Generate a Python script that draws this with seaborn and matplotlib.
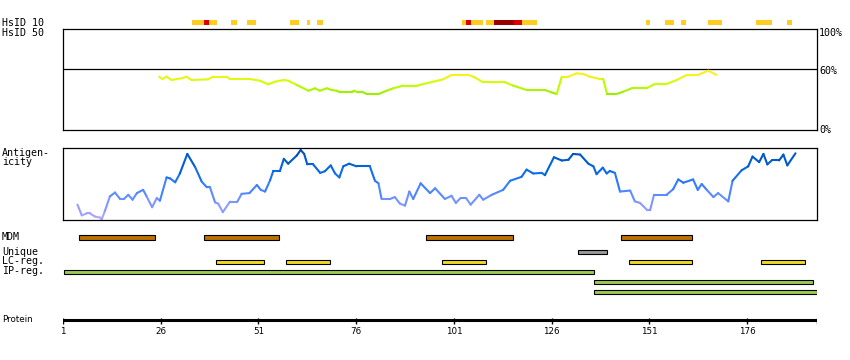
import matplotlib
matplotlib.use("Agg")
import matplotlib.pyplot as plt
import seaborn as sns
import numpy as np
from matplotlib.collections import LineCollection
from matplotlib.colors import LinearSegmentedColormap, Normalize

# Figure size in pixels
W, H = 850, 360
PROTEIN_END = 193.9  # axis runs from residue 1 to just past the last residue

# HsID 10 hits along the sequence: level 1 = low, 2 = medium, 3 = high
hsid10_start = [34.1, 37.2, 38.4, 44.1, 48.2, 59.2, 63.3, 66.1, 103.1, 104.1, 105.4,
                109.2, 111.3, 116.4, 118.4, 150.2, 155.1, 159.2, 166.1, 178.2, 186.1]
hsid10_end = [37.2, 38.4, 40.5, 45.4, 50.5, 61.5, 64.3, 67.4, 104.1, 105.4, 108.4,
              111.3, 116.4, 118.4, 122.3, 151.3, 157.4, 160.5, 169.5, 182.3, 187.4]
hsid10_level = [1, 2, 1, 1, 1, 1, 1, 1, 1, 2, 1,
                1, 3, 2, 1, 1, 1, 1, 1, 1, 1]

# HsID 50 identity (%) along the sequence
hsid50_pos = [25.6, 26.4, 27.5, 28.8, 30.1, 31.4, 32.6, 33.9, 38.1, 39.4, 42.9, 43.7,
              48.8, 51.4, 53.5, 55.2, 57.4, 58.6, 60.8, 63.8, 65.5, 66.7, 68.5, 69.7,
              71.0, 71.9, 74.9, 75.4, 76.5, 77.8, 78.7, 81.7, 83.8, 85.5, 88.1, 91.5,
              93.2, 95.7, 98.3, 100.4, 104.7, 106.0, 108.5, 114.1, 116.2, 119.6, 124.3,
              126.0, 127.3, 128.6, 130.3, 132.4, 134.1, 135.8, 138.4, 139.2, 140.2,
              142.6, 144.3, 146.5, 150.3, 152.4, 155.4, 158.0, 160.6, 163.5, 164.4,
              166.1, 168.2]
hsid50_pct = [52.8, 50.5, 52.8, 49.5, 50.5, 51.2, 52.8, 49.5, 50.2, 52.8, 52.8, 50.5,
              50.5, 48.8, 45.2, 47.8, 49.5, 48.8, 44.6, 38.9, 41.3, 38.9, 41.3, 39.6,
              38.9, 37.3, 37.3, 38.9, 37.3, 37.3, 35.6, 35.6, 38.9, 41.3, 43.9, 43.9,
              45.5, 47.8, 50.2, 54.5, 54.5, 52.8, 47.2, 47.2, 43.9, 39.6, 39.6,
              37.3, 35.6, 52.8, 52.8, 56.1, 55.4, 52.8, 50.5, 50.5, 35.6,
              35.6, 37.9, 41.3, 41.3, 45.5, 45.5, 49.5, 54.5, 54.5, 56.1,
              58.7, 54.5]

# Antigenicity score (0-100 of panel height) along the sequence
antigen_pos = [4.7, 5.8, 7.1, 7.9, 9.2, 10.5, 10.9, 11.7, 13.0, 14.3, 15.6, 16.6, 17.7,
               18.8, 19.9, 21.5, 22.4, 23.8, 25.0, 25.8, 27.5, 28.4, 29.7, 30.9, 32.8,
               34.8, 36.5, 37.8, 38.6, 39.9, 40.7, 41.9, 43.7, 45.6, 46.7, 48.7, 50.6,
               51.6, 52.7, 54.0, 54.8, 56.5, 57.5, 58.6, 60.8, 61.8, 62.7, 63.5, 65.0,
               66.8, 68.0, 69.5, 70.6, 71.7, 72.7, 74.2, 76.1, 79.5, 80.8, 81.7, 82.5,
               84.7, 85.9, 87.2, 88.5, 89.6, 90.6, 92.5, 94.9, 96.2, 98.7, 100.4, 101.5,
               102.7, 104.1, 105.3, 107.5, 108.5, 110.7, 113.6, 115.4, 118.3, 119.6,
               121.3, 123.5, 124.3, 126.6, 128.6, 130.3, 131.5, 133.3, 135.4, 136.7,
               137.5, 139.1, 140.1, 140.9, 142.2, 143.5, 146.1, 147.3, 148.6, 150.5,
               151.2, 152.2, 155.4, 157.1, 158.4, 159.7, 162.2, 163.4, 164.4, 165.7,
               167.4, 168.6, 171.2, 172.3, 174.6, 176.3, 177.4, 179.1, 180.2, 181.2,
               182.3, 184.2, 185.3, 186.3, 188.4]
antigen_val = [20.8, 5.6, 8.3, 8.3, 3.8, 2.4, 0.0, 11.5, 32.4, 37.9, 28.8, 28.8, 34.7,
               27.8, 37.1, 41.7, 32.4, 17.1, 30.1, 26.4, 59.3, 57.9, 52.4, 64.9, 92.6,
               74.0, 53.2, 45.4, 45.4, 24.0, 22.2, 10.1, 25.0, 25.0, 36.1, 37.1, 48.6,
               41.7, 39.3, 55.6, 68.5, 68.5, 85.7, 78.8, 90.3, 98.2, 92.6, 77.8, 77.8,
               65.7, 68.1, 76.4, 64.9, 59.3, 75.0, 78.8, 75.0, 75.0, 54.6, 51.0, 28.8,
               28.8, 31.5, 22.2, 19.4, 39.3, 28.8, 51.0, 37.1, 44.0, 28.8, 33.3, 23.2,
               30.1, 30.1, 20.8, 34.7, 27.8, 34.7, 41.7, 54.6, 60.1, 70.4,
               64.9, 65.7, 62.5, 87.9, 83.3, 84.3, 92.6, 91.7, 78.8, 75.0,
               63.9, 73.2, 64.9, 68.5, 65.7, 39.3, 40.7, 25.4, 23.2, 12.9,
               12.9, 34.7, 34.7, 42.6, 56.5, 51.8, 56.5, 41.7, 50.0, 41.7,
               31.5, 37.1, 25.4, 54.6, 69.4, 75.0, 88.9, 81.0, 92.6, 77.8,
               83.3, 83.3, 91.7, 76.4, 93.5]

# Feature tracks (start / end residue)
mdm_start = [5.1, 37.1, 93.9, 143.7]
mdm_end = [24.5, 56.3, 116.1, 161.9]
unique_start = [132.7]
unique_end = [140.2]
lc_start = [40.1, 58.0, 98.0, 145.8, 179.6]
lc_end = [52.4, 69.3, 109.2, 161.9, 190.8]
ip_start = [1.3, 136.8, 136.8]
ip_end = [136.8, 192.9, 193.9]

tick_labels = [1, 26, 51, 76, 101, 126, 151, 176]

sns.set_theme(style="white")
plt.rcParams["font.family"] = ["DejaVu Sans Mono", "DejaVu Sans"]

MONO = 7.2
HSID10_COLORS = {1: "#ffcc22", 2: "#dd0000", 3: "#990000"}
hsid_cmap = LinearSegmentedColormap.from_list(
    "hsid", ["#99ee00", "#ccff00", "#ffee22"])
antigen_cmap = LinearSegmentedColormap.from_list(
    "antigen", ["#b4a8ff", "#7a96ff", "#2f7bff", "#0063dd", "#004ca8"])


def px_rect(x0, y0, x1, y1):
    """Axes rectangle in figure fractions from pixel corners (top-left origin)."""
    return [x0 / W, 1 - y1 / H, (x1 - x0) / W, (y1 - y0) / H]


def label(x, y, text, **kw):
    """Put a text label at a pixel position."""
    kw.setdefault("fontsize", MONO)
    fig.text(x / W, 1 - y / H, text, va="center", ha="left", color="black", **kw)


def colored_line(ax, xs, ys, cmap, norm, lw=1.5):
    pts = np.column_stack([xs, ys])
    segs = np.stack([pts[:-1], pts[1:]], axis=1)
    mids = (np.asarray(ys[:-1]) + np.asarray(ys[1:])) / 2
    lc = LineCollection(segs, colors=cmap(norm(mids)), linewidths=lw,
                        capstyle="round", joinstyle="round")
    ax.add_collection(lc)


def frame(ax):
    ax.set_xlim(1, PROTEIN_END)
    ax.set_ylim(0, 100)
    ax.set_xticks([])
    ax.set_yticks([])
    ax.set_facecolor("white")
    for s in ax.spines.values():
        s.set_visible(True)
        s.set_color("black")
        s.set_linewidth(0.9)


fig = plt.figure(figsize=(W / 100, H / 100), dpi=100)

# Tracks / protein axis layer (x in residues, y in pixels)
axt = fig.add_axes(px_rect(63, 0, 817, H))
axt.set_xlim(1, PROTEIN_END)
axt.set_ylim(H, 0)
axt.axis("off")

# HsID 50 panel
ax50 = fig.add_axes(px_rect(63, 29, 817, 130))
frame(ax50)
ax50.axhline(60, color="black", lw=0.9)
colored_line(ax50, hsid50_pos, hsid50_pct, hsid_cmap, Normalize(36, 56))

# Antigenicity panel
axa = fig.add_axes(px_rect(63, 148, 817, 220))
frame(axa)
axa.set_ylim(-1, 101)
colored_line(axa, antigen_pos, antigen_val, antigen_cmap, Normalize(0, 100))

# HsID 10 strip
axt.barh(22, np.subtract(hsid10_end, hsid10_start), left=hsid10_start, height=5,
         color=[HSID10_COLORS[v] for v in hsid10_level], linewidth=0)

# Feature tracks
track_kw = dict(edgecolor="black", linewidth=0.8)
axt.barh(237.7, np.subtract(mdm_end, mdm_start), left=mdm_start, height=5,
         color="#bb7300", **track_kw)
axt.barh(252.2, np.subtract(unique_end, unique_start), left=unique_start, height=4,
         color="#9a9a9a", **track_kw)
axt.barh(262.2, np.subtract(lc_end, lc_start), left=lc_start, height=4,
         color="#f2dc22", **track_kw)
axt.barh([272.2, 282.2, 292.2], np.subtract(ip_end, ip_start), left=ip_start,
         height=4, color="#9ccb52", **track_kw)

# Protein axis
axt.hlines(319.5, 1, PROTEIN_END, color="black", lw=2.2)
axt.vlines(tick_labels + [PROTEIN_END], 318, 323.5, color="black", lw=1.0)
for t in tick_labels:
    axt.text(t, 331.5, str(t), ha="center", va="center", fontsize=6.3,
             family=["Liberation Sans Narrow", "DejaVu Sans"], color="black")

# Left-hand labels
label(2, 22.5, "HsID 10")
label(2, 33, "HsID 50")
label(2, 152.5, "Antigen-")
label(2, 162.5, "icity")
label(2, 237.5, "MDM")
label(2, 252, "Unique")
label(2, 261.5, "LC-reg.")
label(2, 271.5, "IP-reg.")
label(2, 320, "Protein", fontsize=6.3, family=["Liberation Sans Narrow", "DejaVu Sans"])

# Right-hand percentage labels
label(819, 32.5, "100%")
label(819, 70.5, "60%")
label(819, 130, "0%")

fig.savefig("out.png", dpi=100, facecolor="white")
